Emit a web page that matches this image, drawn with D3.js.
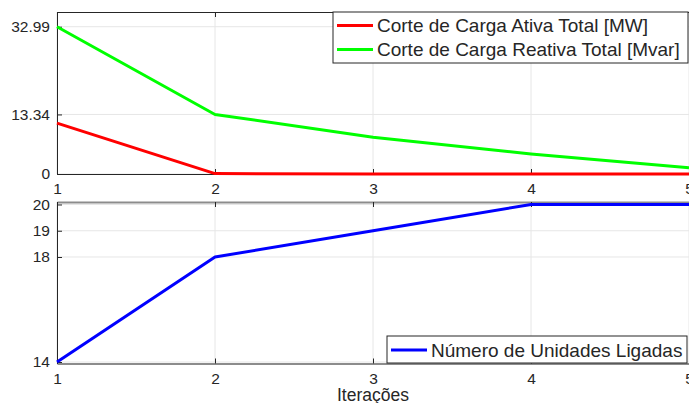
<!DOCTYPE html>
<html>
<head>
<meta charset="utf-8">
<script src="https://cdn.jsdelivr.net/npm/d3@7"></script>
<style>
  body { margin: 0; background: #fff; overflow: hidden; }
  text { font-family: "Liberation Sans", Arial, sans-serif; fill: #262626; }
</style>
</head>
<body>
<div id="chart"></div>
<script>
// Data
let iteracoes = [1, 2, 3, 4, 5];
let corteAtiva = [11.4, 0.1, 0, 0, 0];
let corteReativa = [32.99, 13.34, 8.24, 4.49, 1.41];
let unidades = [14, 18, 19, 20, 20];
let yTicksTop = [0, 13.34, 32.99];
let yTicksBottom = [14, 18, 19, 20];
let legendTop = ["Corte de Carga Ativa Total [MW]", "Corte de Carga Reativa Total [Mvar]"];
let legendBottom = ["Número de Unidades Ligadas"];

// Setup
let width = 689, height = 403;
let left = 57, right = 689;
let top1 = { y0: 12, y1: 174 };
let top2 = { y0: 202, y1: 363.5 };

const svg = d3.select("#chart").append("svg")
  .attr("width", width).attr("height", height);

let x = d3.scaleLinear().domain([1, 5]).range([left, right]);
let y1 = d3.scaleLinear().domain([0, 36.29]).range([top1.y1, top1.y0]);
let y2 = d3.scaleLinear().domain([13.943, 20.095]).range([top2.y1, top2.y0]);

let panel = function(y, box, yTicks, fmt, series, colors, names, leg, borderColor) {
  const g = svg.append("g");

  // grid
  g.append("g").selectAll("line").data(iteracoes).join("line")
    .attr("x1", d => x(d)).attr("x2", d => x(d))
    .attr("y1", box.y0).attr("y2", box.y1)
    .attr("stroke", "#e6e6e6").attr("stroke-width", 1);
  g.append("g").selectAll("line").data(yTicks).join("line")
    .attr("x1", left).attr("x2", right)
    .attr("y1", d => y(d)).attr("y2", d => y(d))
    .attr("stroke", "#e6e6e6").attr("stroke-width", 1);

  // axes
  const xb = g.append("g").attr("transform", `translate(0,${box.y1})`)
    .call(d3.axisBottom(x).tickValues(iteracoes).tickSizeInner(-5).tickSizeOuter(0).tickPadding(9).tickFormat(d3.format("d")));
  const xt = g.append("g").attr("transform", `translate(0,${box.y0})`)
    .call(d3.axisTop(x).tickValues(iteracoes).tickSizeInner(-5).tickSizeOuter(0).tickFormat(""));
  const yl = g.append("g").attr("transform", `translate(${left},0)`)
    .call(d3.axisLeft(y).tickValues(yTicks).tickSizeInner(-5).tickSizeOuter(0).tickPadding(7).tickFormat(fmt));

  [xb, xt, yl].forEach(a => {
    a.select(".domain").attr("stroke", "#262626");
    a.selectAll(".tick line").attr("stroke", "#262626");
    a.selectAll("text").attr("font-size", "15.5px").attr("fill", "#262626")
      .style("font-family", '"Liberation Sans", Arial, sans-serif');
  });
  xb.select(".domain").attr("stroke", borderColor).attr("stroke-width", borderColor === "#262626" ? 1 : 2);
  xt.select(".domain").attr("stroke", borderColor).attr("stroke-width", borderColor === "#262626" ? 1 : 2);

  // lines
  const line = d3.line().x((d, i) => x(iteracoes[i])).y(d => y(d));
  series.forEach((s, k) => {
    g.append("path").datum(s)
      .attr("fill", "none").attr("stroke", colors[k]).attr("stroke-width", 3)
      .attr("stroke-linejoin", "round")
      .attr("d", line);
  });

  // legend
  const lg = g.append("g");
  lg.append("rect").attr("x", leg.x).attr("y", leg.y).attr("width", leg.w).attr("height", leg.h)
    .attr("fill", "#fff").attr("stroke", "#262626").attr("stroke-width", 1);
  names.forEach((n, k) => {
    const cy = leg.y + leg.pad + k * 24;
    lg.append("line").attr("x1", leg.x + 4).attr("x2", leg.x + 40)
      .attr("y1", cy).attr("y2", cy)
      .attr("stroke", colors[k]).attr("stroke-width", 3);
    lg.append("text").attr("x", leg.x + 44).attr("y", cy + 6.5)
      .attr("font-size", "19px").text(n);
  });
};

panel(y1, top1, yTicksTop, d => d === 0 ? "0" : d3.format(".2f")(d),
  [corteAtiva, corteReativa], ["#ff0000", "#00ff00"], legendTop,
  { x: 333, y: 12, w: 355, h: 51, pad: 13.5 }, "#262626");

panel(y2, top2, yTicksBottom, d3.format("d"),
  [unidades], ["#0000ff"], legendBottom,
  { x: 387, y: 336, w: 300, h: 27, pad: 14 }, "#8c8c8c");

svg.append("text")
  .attr("x", x(3)).attr("y", 401)
  .attr("text-anchor", "middle").attr("font-size", "17.5px")
  .text("Iterações");
</script>
</body>
</html>
